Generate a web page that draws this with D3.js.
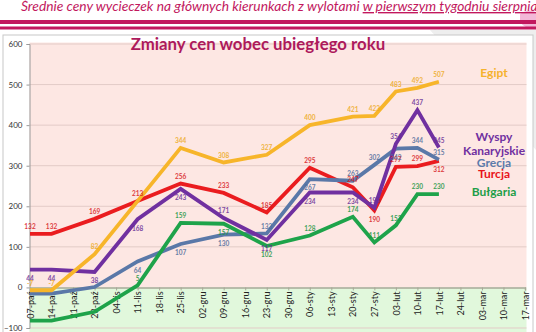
<!DOCTYPE html>
<html><head><meta charset="utf-8">
<script src="https://cdn.jsdelivr.net/npm/d3@7"></script>
<style>
html,body{margin:0;padding:0;background:#fff;}
svg{display:block;font-family:Lato,"Open Sans",sans-serif;}
</style></head>
<body>
<svg id="c" width="536" height="332"></svg>
<script>
const categories = ["07-paź","14-paź","21-paź","28-paź","04-lis","11-lis","18-lis","25-lis","02-gru","09-gru","16-gru","23-gru","30-gru","06-sty","13-sty","20-sty","27-sty","03-lut","10-lut","17-lut","24-lut","03-mar","10-mar","17-mar"];
const yTicks = [-100,0,100,200,300,400,500,600];

const egipt    = [-7,-7,null,82,null,null,null,344,null,308,null,327,null,400,null,421,423,483,492,507,null,null,null,null];
const wyspy    = [44,44,null,38,null,168,null,243,null,171,null,117,null,234,null,234,196,354,437,345,null,null,null,null];
const grecja   = [-15,-15,null,1,null,64,null,107,null,130,null,133,null,267,null,263,302,342,344,315,null,null,null,null];
const turcja   = [132,132,null,169,null,213,null,256,null,233,null,185,null,295,null,247,190,297,299,312,null,null,null,null];
const bulgaria = [-82,-82,null,-60,null,5,null,159,null,157,null,102,null,128,null,174,111,153,230,230,null,null,null,null];

// label placement: 1 above, -1 below, 0 hidden (per defined point)
const egiptLab    = [1,1,1,1,1,1,1,1,1,1,1,1];
const wyspyLab    = [-1,-1,-1,-1,-1,1,-1,-1,-1,1,1,1,1];
const grecjaLab   = [0,0,0,-1,-1,-1,1,-1,1,1,-1,1,1];
const turcjaLab   = [1,1,1,1,1,1,1,1,1,-1,1,1,-1];
const bulgariaLab = [0,0,0,1,1,-1,-1,1,1,1,1,1,1];

const series = [
  {name:"Turcja", values:turcja, lab:turcjaLab, color:"#ea1c1f", lcolor:"#d8191e"},
  {name:"Grecja", values:grecja, lab:grecjaLab, color:"#5a78a8", lcolor:"#4f6c9c"},
  {name:"Bułgaria", values:bulgaria, lab:bulgariaLab, color:"#1ea34a", lcolor:"#1a9642"},
  {name:"Wyspy Kanaryjskie", values:wyspy, lab:wyspyLab, color:"#7030a0", lcolor:"#6a2f98"},
  {name:"Egipt", values:egipt, lab:egiptLab, color:"#f7b52a", lcolor:"#eeaa22"}
];

const svg = d3.select("#c");
const magenta = "#c2185e";

// background decoration
svg.append("polygon").attr("points","430,30 536,30 536,150").attr("fill","#eeeeee");
svg.append("path").attr("d","M520,14 q8,-6 16,-2 l0,16 q-10,2 -16,-6 z").attr("fill","#f3b8d8");

// header
const head = svg.append("text").attr("x",21).attr("y",11).attr("fill",magenta)
  .attr("font-size",13.8).attr("font-style","italic");
head.append("tspan").text("Średnie ceny wycieczek na głównych kierunkach z wylotami ");
head.append("tspan").attr("text-decoration","underline").text("w pierwszym tygodniu sierpnia");
svg.append("rect").attr("x",0).attr("y",20).attr("width",536).attr("height",4).attr("fill",magenta);
svg.append("rect").attr("x",0).attr("y",26.5).attr("width",536).attr("height",3).attr("fill",magenta);

// chart box
svg.append("rect").attr("x",3).attr("y",35).attr("width",530).attr("height",310)
  .attr("fill","#fff").attr("stroke","#c8c8c8").attr("stroke-width",1);

const x = d3.scalePoint().domain(categories).range([30,525]);
const y = d3.scaleLinear().domain([-100,600]).range([328,44]);
const plotL = 29.5, plotR = 526.5;

// plot backgrounds
svg.append("rect").attr("x",plotL).attr("y",y(600)-1.5).attr("width",plotR-plotL).attr("height",y(0)-y(600)+1.5).attr("fill","#fde7e3");
svg.append("rect").attr("x",plotL).attr("y",y(0)).attr("width",plotR-plotL).attr("height",345-y(0)).attr("fill","#e1f8dc");

// gridlines
svg.append("g").selectAll("line").data(yTicks.filter(d=>d!==0)).join("line")
  .attr("x1",plotL).attr("x2",plotR).attr("y1",d=>y(d)).attr("y2",d=>y(d))
  .attr("stroke","#e3cbc7").attr("stroke-width",1);

// y axis
const yAxis = d3.axisLeft(y).tickValues(yTicks).tickSize(3).tickPadding(4);
const gy = svg.append("g").attr("transform",`translate(${plotL},0)`).call(yAxis);
gy.select(".domain").attr("stroke","#9a9a9a");
gy.selectAll(".tick line").attr("stroke","#9a9a9a");
gy.selectAll(".tick text").attr("font-size",8).attr("fill","#333").attr("font-family","Lato,sans-serif");

// x axis at zero
const xAxis = d3.axisBottom(x).tickSize(3).tickPadding(3);
const gx = svg.append("g").attr("transform",`translate(0,${y(0)})`).call(xAxis);
gx.select(".domain").attr("stroke","#a8a898").attr("stroke-width",1.5);
gx.selectAll(".tick line").attr("stroke","#a8a898");
gx.selectAll(".tick text").attr("font-size",9).attr("fill","#222").attr("font-family","Lato,sans-serif")
  .attr("text-anchor","end").attr("dy","0.35em")
  .attr("transform","rotate(-90)").attr("x",-4).attr("y",0);

// lines
const line = d3.line().x(d=>x(d.c)).y(d=>y(d.v));
series.forEach(s=>{
  const pts = s.values.map((v,i)=>({c:categories[i],v})).filter(d=>d.v!==null);
  svg.append("path").datum(pts).attr("d",line).attr("fill","none")
    .attr("stroke",s.color).attr("stroke-width",3.8).attr("stroke-linejoin","miter");
});
// labels
series.forEach(s=>{
  const pts = s.values.map((v,i)=>({c:categories[i],v})).filter(d=>d.v!==null);
  svg.append("g").selectAll("text").data(pts.map((p,i)=>({...p,pos:s.lab[i]})).filter(p=>p.pos!==0)).join("text")
    .attr("x",d=>x(d.c)).attr("y",d=>y(d.v)+(d.pos>0?-7:9))
    .attr("dy","0.35em").attr("text-anchor","middle")
    .attr("font-size",6.5).attr("font-weight","bold").attr("fill",s.lcolor).attr("opacity",0.85)
    .text(d=>d.v);
});

// title
svg.append("text").attr("x",258).attr("y",50).attr("text-anchor","middle")
  .attr("font-size",16.8).attr("font-weight","bold").attr("fill","#ad1a5c")
  .text("Zmiany cen wobec ubiegłego roku");

// legend labels
const legend = [
  {t:"Egipt", y:73, c:"#f5b22d"},
  {t:"Wyspy", y:137, c:"#7030a0"},
  {t:"Kanaryjskie", y:151, c:"#7030a0"},
  {t:"Grecja", y:163, c:"#5b7bab"},
  {t:"Turcja", y:174, c:"#e8141b"},
  {t:"Bułgaria", y:192, c:"#1e9e48"}
];
svg.append("g").selectAll("text").data(legend).join("text")
  .attr("x",494).attr("y",d=>d.y).attr("dy","0.35em").attr("text-anchor","middle")
  .attr("font-size",12).attr("font-weight","bold").attr("fill",d=>d.c).text(d=>d.t);
</script>
</body></html>
